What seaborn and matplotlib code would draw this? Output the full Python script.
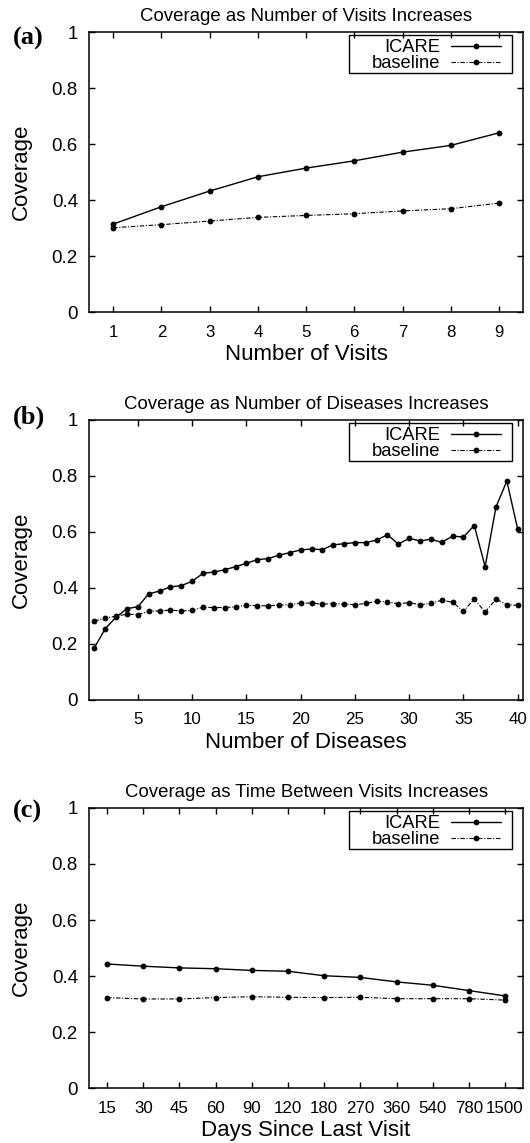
import matplotlib
matplotlib.use("Agg")
import matplotlib.pyplot as plt
from matplotlib.patches import Rectangle
import pandas as pd
import seaborn as sns

# panel (a): coverage vs number of visits
visits = [1, 2, 3, 4, 5, 6, 7, 8, 9]
visits_icare = [0.314, 0.376, 0.432, 0.483, 0.514, 0.540, 0.571, 0.595, 0.640]
visits_base = [0.301, 0.312, 0.325, 0.338, 0.345, 0.351, 0.361, 0.369, 0.389]

# panel (b): coverage vs number of diseases
diseases = list(range(1, 41))
diseases_icare = [0.187, 0.255, 0.296, 0.326, 0.333, 0.379, 0.389, 0.404, 0.408, 0.424,
                  0.452, 0.457, 0.465, 0.476, 0.488, 0.501, 0.505, 0.517, 0.526, 0.536,
                  0.539, 0.537, 0.554, 0.558, 0.562, 0.562, 0.571, 0.590, 0.557, 0.577,
                  0.568, 0.574, 0.563, 0.585, 0.582, 0.623, 0.476, 0.689, 0.782, 0.610]
diseases_base = [0.282, 0.292, 0.300, 0.306, 0.305, 0.317, 0.318, 0.321, 0.318, 0.320,
                 0.331, 0.330, 0.330, 0.333, 0.338, 0.337, 0.336, 0.339, 0.340, 0.346,
                 0.346, 0.342, 0.344, 0.343, 0.340, 0.345, 0.352, 0.351, 0.343, 0.348,
                 0.340, 0.345, 0.356, 0.349, 0.317, 0.360, 0.314, 0.360, 0.340, 0.338]

# panel (c): coverage vs days since last visit (categorical axis)
days = ["15", "30", "45", "60", "90", "120", "180", "270", "360", "540", "780", "1500"]
days_icare = [0.443, 0.435, 0.429, 0.426, 0.420, 0.417, 0.401, 0.395, 0.379, 0.367, 0.348, 0.329]
days_base = [0.323, 0.318, 0.318, 0.323, 0.326, 0.324, 0.323, 0.324, 0.319, 0.319, 0.319, 0.314]

yticks = [0, 0.2, 0.4, 0.6, 0.8, 1]
ytick_labels = ["0", "0.2", "0.4", "0.6", "0.8", "1"]

sns.set_style("ticks")
plt.rcParams["font.family"] = ["Liberation Sans", "DejaVu Sans"]
for k in ["text.color", "axes.labelcolor", "xtick.color", "ytick.color", "axes.edgecolor"]:
    plt.rcParams[k] = "black"

fig = plt.figure(figsize=(5.3, 11.43), dpi=100)
left, width, height = 0.168, 0.819, 0.245
bottoms = [0.727, 0.3876, 0.0481]


def draw_panel(ax, x, icare, base, title, xlabel):
    df = pd.DataFrame({"x": x, "ICARE": icare, "baseline": base})
    sns.lineplot(data=df, x="x", y="ICARE", ax=ax, color="black", linewidth=1.0,
                 marker="o", markersize=4.2, markeredgecolor="black", markeredgewidth=0,
                 label="ICARE")
    sns.lineplot(data=df, x="x", y="baseline", ax=ax, color="black", linewidth=0.8,
                 linestyle=(0, (4, 1.5, 1, 1.5)), marker="o", markersize=4.2,
                 markeredgecolor="black", markeredgewidth=0, label="baseline")
    ax.set_ylim(0, 1)
    ax.set_yticks(yticks, ytick_labels)
    ax.set_title(title, fontsize=13.4, pad=8)
    ax.set_xlabel(xlabel, fontsize=16, labelpad=3)
    ax.set_ylabel("Coverage", fontsize=16, labelpad=14)
    ax.tick_params(direction="in", top=True, right=True, length=4, width=1,
                   color="black")
    ax.tick_params(axis="y", pad=8, labelsize=13.5)
    ax.tick_params(axis="x", pad=9, labelsize=12.2)
    for s in ax.spines.values():
        s.set_linewidth(1.1)
    # legend box is drawn by hand: gnuplot pads it wider than tall
    ax.legend(loc="upper right", markerfirst=False, fontsize=13.2, frameon=False,
              borderpad=0, labelspacing=-0.05, handlelength=2.7, handletextpad=0.6,
              borderaxespad=0, bbox_to_anchor=(0.949, 0.974))
    ax.add_patch(Rectangle((0.599, 0.854), 0.376, 0.135, transform=ax.transAxes,
                           fill=False, edgecolor="black", linewidth=1.0, zorder=5))


ax1 = fig.add_axes([left, bottoms[0], width, height])
draw_panel(ax1, visits, visits_icare, visits_base,
           "Coverage as Number of Visits Increases", "Number of Visits")
ax1.set_xlim(0.5, 9.5)
ax1.set_xticks(visits)

ax2 = fig.add_axes([left, bottoms[1], width, height])
draw_panel(ax2, diseases, diseases_icare, diseases_base,
           "Coverage as Number of Diseases Increases", "Number of Diseases")
ax2.set_xlim(0.5, 40.5)
ax2.set_xticks([5, 10, 15, 20, 25, 30, 35, 40])

ax3 = fig.add_axes([left, bottoms[2], width, height])
pos = list(range(len(days)))
draw_panel(ax3, pos, days_icare, days_base,
           "Coverage as Time Between Visits Increases", "Days Since Last Visit")
ax3.set_xlim(-0.5, len(days) - 0.5)
ax3.set_xticks(pos, days)

for lab, ypix in [("(a)", 38), ("(b)", 417), ("(c)", 811)]:
    fig.text(13 / 530, 1 - ypix / 1143, lab, fontsize=19, fontweight="bold",
             family="Liberation Serif", ha="left", va="center")

fig.savefig("out.png", dpi=100)
